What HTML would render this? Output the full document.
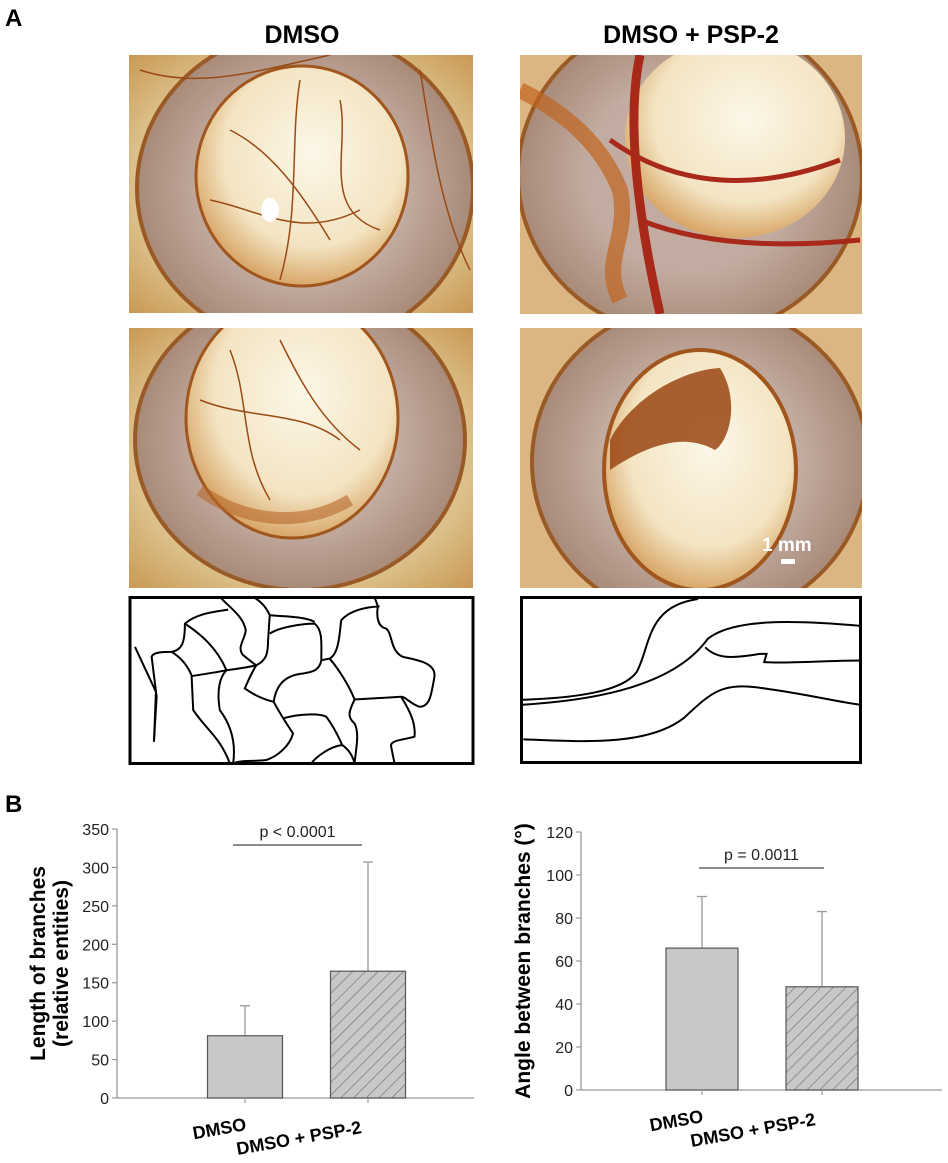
<!DOCTYPE html>
<html><head><meta charset="utf-8"><style>
html,body{margin:0;padding:0;background:#fff;}
svg{display:block;font-family:"Liberation Sans",Arial,sans-serif;}
</style></head><body>
<svg id="fig" width="948" height="1163" viewBox="0 0 948 1163">
<defs>
 <radialGradient id="bgG" cx="50%" cy="50%" r="70%"><stop offset="0" stop-color="#e2cfa2"/><stop offset="0.7" stop-color="#dcc08a"/><stop offset="1" stop-color="#c99a55"/></radialGradient>
 <radialGradient id="ringG" cx="50%" cy="50%" r="50%"><stop offset="0.6" stop-color="#c2aba0"/><stop offset="1" stop-color="#a88a78"/></radialGradient>
 <radialGradient id="inG" cx="55%" cy="40%" r="60%"><stop offset="0" stop-color="#fcf7e8"/><stop offset="0.7" stop-color="#f3e4c2"/><stop offset="1" stop-color="#d9a86a"/></radialGradient>
 <clipPath id="c1"><rect x="129" y="55" width="344" height="258"/></clipPath>
 <clipPath id="c2"><rect x="520" y="55" width="342" height="259"/></clipPath>
 <clipPath id="c3"><rect x="129" y="328" width="344" height="260"/></clipPath>
 <clipPath id="c4"><rect x="520" y="328" width="342" height="260"/></clipPath>
 <pattern id="hatch" patternUnits="userSpaceOnUse" width="9" height="9" patternTransform="rotate(45)"><rect width="9" height="9" fill="#c8c8c8"/><line x1="0" y1="0" x2="0" y2="9" stroke="#6a6a6a" stroke-width="1.2"/></pattern>
</defs>

<text x="5" y="26" font-size="24" font-weight="bold">A</text>
<text x="302" y="43" font-size="25" font-weight="bold" text-anchor="middle">DMSO</text>
<text x="691" y="43" font-size="25" font-weight="bold" text-anchor="middle">DMSO + PSP-2</text>

<g clip-path="url(#c1)">
 <rect x="129" y="55" width="344" height="258" fill="url(#bgG)"/>
 <ellipse cx="305" cy="188" rx="168" ry="158" fill="url(#ringG)" stroke="#9a5a25" stroke-width="4"/>
 <ellipse cx="302" cy="176" rx="106" ry="110" fill="url(#inG)" stroke="#a0561c" stroke-width="3"/>
 <g fill="none" stroke="#9a4a15" stroke-width="1.5">
  <path d="M230 130 C270 150 300 190 330 240 M300 80 C290 140 300 210 280 280 M340 100 C350 150 320 210 380 230 M210 200 C260 210 300 240 360 210"/>
  <path d="M140 70 C200 90 260 70 330 55 M420 70 C430 130 440 210 470 270"/>
 </g>
 <ellipse cx="270" cy="210" rx="9" ry="12" fill="#fff"/>
</g>
<g clip-path="url(#c2)">
 <rect x="520" y="55" width="342" height="259" fill="#dcb682"/>
 <ellipse cx="690" cy="175" rx="172" ry="162" fill="url(#ringG)" stroke="#9a5a25" stroke-width="4"/>
 <ellipse cx="735" cy="138" rx="110" ry="100" fill="url(#inG)"/>
 <path d="M520 90 C560 110 600 140 620 190 C630 240 600 260 620 300" fill="none" stroke="#c0641e" stroke-width="16" opacity="0.7"/>
 <g fill="none" stroke="#a8281a">
  <path d="M640 55 C625 125 640 225 660 314" stroke-width="9"/>
  <path d="M610 140 C680 190 760 190 840 160" stroke-width="5"/>
  <path d="M640 220 C690 240 760 250 860 240" stroke-width="5"/>
 </g>
</g>
<g clip-path="url(#c3)">
 <rect x="129" y="328" width="344" height="260" fill="url(#bgG)"/>
 <ellipse cx="300" cy="440" rx="165" ry="150" fill="url(#ringG)" stroke="#9a5a25" stroke-width="4"/>
 <ellipse cx="292" cy="418" rx="106" ry="120" fill="url(#inG)" stroke="#a0561c" stroke-width="3"/>
 <path d="M200 490 C240 520 300 530 350 500" fill="none" stroke="#b8682a" stroke-width="12" opacity="0.6"/>
 <g fill="none" stroke="#9a4a15" stroke-width="1.5"><path d="M230 350 C250 400 240 450 270 500 M280 340 C300 380 320 420 360 450 M200 400 C250 420 300 410 340 440"/></g>
</g>
<g clip-path="url(#c4)">
 <rect x="520" y="328" width="342" height="260" fill="#dcb682"/>
 <ellipse cx="700" cy="462" rx="168" ry="160" fill="url(#ringG)" stroke="#9a5a25" stroke-width="4"/>
 <ellipse cx="700" cy="470" rx="96" ry="120" fill="url(#inG)" stroke="#a0561c" stroke-width="4"/>
 <path d="M610 440 C630 400 680 370 720 368 C740 400 730 440 715 450 C680 430 640 450 610 470 Z" fill="#9a4512" opacity="0.85"/>
 <text x="762" y="551" font-size="19" font-weight="bold" fill="#fff">1 mm</text>
 <rect x="781" y="559" width="14" height="5" fill="#fff"/>
</g>

<g>
 <rect x="130" y="597.5" width="343" height="166" fill="#fff" stroke="#000" stroke-width="3"/>
 <svg x="131" y="597" width="346" height="167" viewBox="33 20 1040 502" preserveAspectRatio="none">
  <g fill="none" stroke="#000" stroke-width="2">
   <path vector-effect="non-scaling-stroke" d="M45 170 L108 305 L102 455"/>
   <path vector-effect="non-scaling-stroke" d="M102 455 L110 320 L95 200 C100 185 130 185 155 185 C185 180 195 160 195 100 C230 70 280 65 325 58"/>
   <path vector-effect="non-scaling-stroke" d="M155 185 C180 200 200 220 215 255 L220 360 C260 420 300 440 330 520"/>
   <path vector-effect="non-scaling-stroke" d="M195 100 C240 130 290 170 320 240 C300 260 290 300 300 360 C330 400 350 450 340 520"/>
   <path vector-effect="non-scaling-stroke" d="M215 258 C260 250 300 245 320 240 C360 235 390 230 410 225"/>
   <path vector-effect="non-scaling-stroke" d="M305 25 C340 60 370 80 378 120 C375 150 350 170 370 195 C390 210 400 220 410 225 C440 210 445 190 445 150 L450 75 C440 50 420 30 400 20"/>
   <path vector-effect="non-scaling-stroke" d="M450 75 C500 78 560 80 585 95 M450 130 C480 110 550 100 585 100 C610 120 605 160 605 210 C600 240 580 245 550 250 C500 255 470 280 462 335 C440 330 410 320 375 295 C390 260 400 240 410 225"/>
   <path vector-effect="non-scaling-stroke" d="M605 210 L630 205 C660 190 660 120 665 90 C690 60 740 50 780 48 M765 20 L775 48 C770 80 775 110 800 115 C820 130 810 180 850 200 C900 210 950 220 945 260 C935 320 930 350 900 350 C870 340 860 320 845 320 L705 328 C690 290 660 240 630 205"/>
   <path vector-effect="non-scaling-stroke" d="M462 335 C480 370 500 400 520 430 C510 470 470 500 440 510 C400 515 360 510 340 520"/>
   <path vector-effect="non-scaling-stroke" d="M490 385 C540 370 600 370 620 380 C650 420 660 450 668 465 C630 470 590 500 575 520"/>
   <path vector-effect="non-scaling-stroke" d="M705 328 C690 360 680 380 705 400 C720 430 710 470 705 520 M668 465 C690 480 700 500 705 520"/>
   <path vector-effect="non-scaling-stroke" d="M845 320 C870 360 890 400 885 440 C850 450 810 450 815 470 L825 520"/>
  </g>
 </svg>
</g>
<g>
 <rect x="521.5" y="597.5" width="339" height="165" fill="#fff" stroke="#000" stroke-width="3"/>
 <svg x="521" y="597" width="340" height="166" viewBox="835 12 720 505" preserveAspectRatio="none">
  <g fill="none" stroke="#000" stroke-width="2">
   <path vector-effect="non-scaling-stroke" d="M830 325 C950 320 1050 300 1080 240 C1110 160 1100 40 1210 18"/>
   <path vector-effect="non-scaling-stroke" d="M835 340 C950 330 1150 300 1230 140 C1280 80 1400 80 1555 100"/>
   <path vector-effect="non-scaling-stroke" d="M1225 165 C1250 200 1280 200 1340 185 L1355 185 L1350 210 C1400 215 1480 205 1555 205"/>
   <path vector-effect="non-scaling-stroke" d="M840 445 C950 450 1100 470 1180 380 C1240 300 1260 270 1350 290 C1450 310 1500 330 1555 340"/>
  </g>
 </svg>
</g>

<text x="5" y="812" font-size="24" font-weight="bold">B</text>
<g id="chart1"></g>
<g id="chart2"></g>
</svg>
<script>
const categories = ["DMSO", "DMSO + PSP-2"];
const lengthValues = [81, 165];
const lengthErrors = [120, 307];
const lengthTicks = [0, 50, 100, 150, 200, 250, 300, 350];
const angleValues = [66, 48];
const angleErrors = [90, 83];
const angleTicks = [0, 20, 40, 60, 80, 100, 120];
const lengthP = "p < 0.0001";
const angleP = "p = 0.0011";

const NS = "http://www.w3.org/2000/svg";
function mk(parent, tag, attrs, text) {
  const e = document.createElementNS(NS, tag);
  for (const k in attrs) e.setAttribute(k, attrs[k]);
  if (text !== undefined) e.textContent = text;
  parent.appendChild(e);
  return e;
}
function drawChart(g, cfg) {
  const y = v => cfg.y0 - (v - cfg.min) / (cfg.max - cfg.min) * (cfg.y0 - cfg.y1);
  const ax = mk(g, "line", {x1: cfg.x0, y1: cfg.y1, x2: cfg.x0, y2: cfg.y0, stroke: "#999", "stroke-width": 1.3});
  
  
  const xa = mk(g, "line", {x1: cfg.x0, y1: cfg.y0, x2: cfg.xEnd, y2: cfg.y0, stroke: "#999", "stroke-width": 1.3});
  
  
  cfg.ticks.forEach(t => {
    const tl = mk(g, "line", {x1: cfg.x0 - 5, y1: y(t), x2: cfg.x0, y2: y(t), stroke: "#999", "stroke-width": 1.2});
    
    
    const tx = mk(g, "text", {x: cfg.x0 - 8, y: y(t) + 6, "font-size": 16, "text-anchor": "end", fill: "#222"}, String(t));
    
    
  });
  cfg.values.forEach((v, i) => {
    const cx = cfg.centers[i];
    const err = mk(g, "line", {x1: cx, y1: y(v), x2: cx, y2: y(cfg.errors[i]), stroke: "#999", "stroke-width": 1.3});
    
    
    const cap = mk(g, "line", {x1: cx - 5, y1: y(cfg.errors[i]), x2: cx + 5, y2: y(cfg.errors[i]), stroke: "#999", "stroke-width": 1.3});
    
    
    const b = mk(g, "rect", {x: cx - cfg.bw / 2, y: y(v), width: cfg.bw, height: y(cfg.min) - y(v), fill: i === 0 ? "#c8c8c8" : "url(#hatch)", stroke: "#555", "stroke-width": 1.2});
    
    
    const xt = mk(g, "line", {x1: cx, y1: cfg.y0, x2: cx, y2: cfg.y0 + 5, stroke: "#999", "stroke-width": 1.2});
    
    
    const lx = i === 0 ? cx + 2 : cx - 68;
    const ly = cfg.y0 + (i === 0 ? 32 : 46);
    const lab = mk(g, "text", {x: lx, y: ly, "font-size": 18, "font-weight": "bold", "text-anchor": i === 0 ? "end" : "middle", transform: `rotate(-10 ${lx} ${ly})`}, categories[i]);
    
    
  });
  const pl = mk(g, "line", {x1: cfg.pbar[0], y1: cfg.pbarY, x2: cfg.pbar[1], y2: cfg.pbarY, stroke: "#666", "stroke-width": 1.5});
  
  
  const pt = mk(g, "text", {x: (cfg.pbar[0] + cfg.pbar[1]) / 2, y: cfg.pbarY - 8, "font-size": 16, "text-anchor": "middle", fill: "#222"}, cfg.p);
  
  
  cfg.title.forEach((line, k) => {
    const tx = cfg.titleX + k * 23, ty = (cfg.y0 + cfg.y1) / 2 + cfg.titleDy;
    const t = mk(g, "text", {x: tx, y: ty, "font-size": 21, "font-weight": "bold", "text-anchor": "middle", transform: `rotate(-90 ${tx} ${ty})`}, line);
    
    
  });
}
drawChart(document.getElementById("chart1"), {x0: 117, xEnd: 474, y0: 1098, y1: 829, min: 0, max: 350, ticks: lengthTicks, values: lengthValues, errors: lengthErrors, centers: [245, 368], bw: 75, pbar: [233, 362], pbarY: 845, p: lengthP, title: ["Length of branches", "(relative entities)"], titleX: 45, titleDy: 0});
drawChart(document.getElementById("chart2"), {x0: 581, xEnd: 942, y0: 1090, y1: 832, min: 0, max: 120, ticks: angleTicks, values: angleValues, errors: angleErrors, centers: [702, 822], bw: 72, pbar: [699, 824], pbarY: 868, p: angleP, title: ["Angle between branches (°)"], titleX: 530, titleDy: 0});
</script>
</body></html>
